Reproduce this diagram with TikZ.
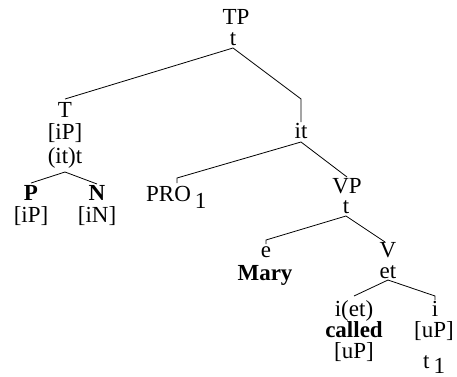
\documentclass[tikz,border=0pt]{standalone}
\usepackage{fontspec}
\setmainfont{Liberation Serif}
\begin{document}
\begin{tikzpicture}[x=1pt,y=1pt,
  lab/.style={anchor=base, inner sep=0pt, font=\fontsize{23}{25}\selectfont},
  edge/.style={line width=0.8pt, line join=miter}]
\useasboundingbox (0,0) rectangle (457,376);
% labels
\node[lab] (TP) at (236,352) {TP};
\node[lab] (tTP) at (233,331) {t};
\node[lab] (T) at (65,259) {T};
\node[lab] (TiP) at (65,237) {[iP]};
\node[lab] (Tt) at (65,213) {(it)t};
\node[lab] (P) at (31,176) {\textbf{P}};
\node[lab] (PiP) at (31,154) {[iP]};
\node[lab] (N) at (97,176) {\textbf{N}};
\node[lab] (NiN) at (97,154) {[iN]};
\node[lab, anchor=base west] (PRO) at (146,175) {PRO\hspace{4pt}\raisebox{-7pt}{1}};
\node[lab] (it) at (301,238) {it};
\node[lab] (VP) at (347,183) {VP};
\node[lab] (tVP) at (346,163) {t};
\node[lab] (e) at (266,119) {e};
\node[lab] (Mary) at (265,96) {\textbf{Mary}};
\node[lab] (V) at (388,119) {V};
\node[lab] (et) at (388,98) {et};
\node[lab] (iet) at (354,60) {i(et)};
\node[lab] (called) at (354,39) {\textbf{called}};
\node[lab] (uPl) at (354,18) {[uP]};
\node[lab] (i) at (435,60) {i};
\node[lab] (uPr) at (434,39) {[uP]};
\node[lab, anchor=base west] (t1) at (423,8) {t\hspace{4pt}\raisebox{-5pt}{1}};
% connector end points
\coordinate (tTPb) at (233,328);
\coordinate (Ttop) at (65,277);
\coordinate (itknee) at (301,277);
\coordinate (ittop) at (301,254);
\coordinate (Ttb) at (65,204);
\coordinate (Ptop) at (31,193);
\coordinate (Ntop) at (97,192);
\coordinate (itb) at (301,234);
\coordinate (PROknee) at (177,198);
\coordinate (PROtop) at (177,193);
\coordinate (VPtop) at (347,199);
\coordinate (tVPb) at (346,160);
\coordinate (eknee) at (266,136);
\coordinate (etop) at (266,132);
\coordinate (Vtop) at (385,134);
\coordinate (etb) at (388,96);
\coordinate (ietop) at (354,80);
\coordinate (iknee) at (435,80);
\coordinate (itop) at (435,76);
% connectors
\draw[edge] (tTPb) -- (Ttop);
\draw[edge] (tTPb) -- (itknee) -- (ittop);
\draw[edge] (Ttb) -- (Ptop);
\draw[edge] (Ttb) -- (Ntop);
\draw[edge] (itb) -- (PROknee) -- (PROtop);
\draw[edge] (itb) -- (VPtop);
\draw[edge] (tVPb) -- (eknee) -- (etop);
\draw[edge] (tVPb) -- (Vtop);
\draw[edge] (etb) -- (ietop);
\draw[edge] (etb) -- (iknee) -- (itop);
\end{tikzpicture}
\end{document}
